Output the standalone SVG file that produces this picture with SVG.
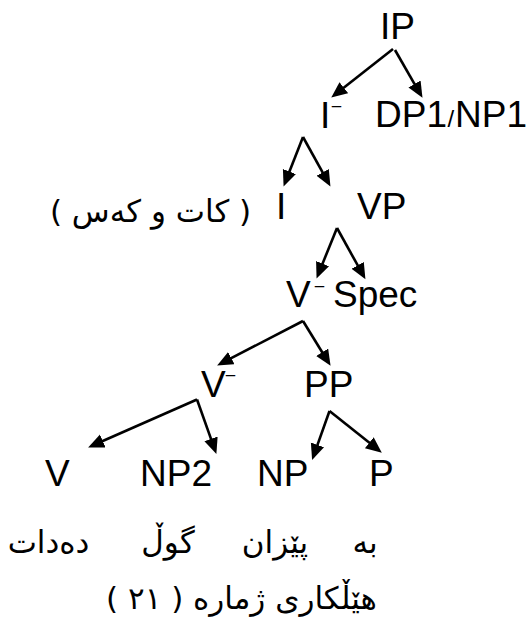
<svg xmlns="http://www.w3.org/2000/svg" width="531" height="623" viewBox="0 0 531 623">
<defs>
<marker id="ah" markerUnits="userSpaceOnUse" markerWidth="18" markerHeight="16" refX="5" refY="7" orient="auto">
<path d="M0,0 L16,7 L0,14 z" fill="#000"/>
</marker>
<style>
.lat{font-family:'Liberation Sans',Arial,sans-serif;font-size:37px;fill:#000}
.ku{font-family:'DejaVu Sans',sans-serif;font-size:31px;fill:#000;direction:rtl;unicode-bidi:embed}
.c line{stroke:#000;stroke-width:2.6;marker-end:url(#ah)}
</style>
</defs>
<rect width="531" height="623" fill="#fff"/>
<g id="connectors" class="c">
<line x1="393" y1="49" x2="339.9" y2="90.8"/>
<line x1="395" y1="50" x2="417" y2="88.3"/>
<line x1="303" y1="137" x2="287.6" y2="176.2"/>
<line x1="303" y1="137" x2="325.1" y2="176.8"/>
<line x1="337" y1="228" x2="320.7" y2="268.2"/>
<line x1="337" y1="228" x2="360.1" y2="269.7"/>
<line x1="303" y1="321" x2="226.9" y2="360.4"/>
<line x1="303" y1="321" x2="324.8" y2="356.5"/>
<line x1="197" y1="399.5" x2="98.2" y2="443"/>
<line x1="197" y1="399.5" x2="212.7" y2="443.6"/>
<line x1="329.5" y1="411" x2="315.8" y2="449.6"/>
<line x1="329.5" y1="411" x2="373.2" y2="445.8"/>
</g>
<g id="n-IP"><text class="lat" x="380" y="39">IP</text></g>
<g id="n-Ibar"><text class="lat" x="320" y="128">I<tspan font-size="17" dx="1.5" dy="-17">–</tspan></text></g>
<g id="n-DP1"><text class="lat" x="375" y="127">DP1<tspan font-size="24" x="447.5">/</tspan><tspan x="455">NP1</tspan></text></g>
<g id="n-kat"><text class="ku" x="150.5" y="222" text-anchor="middle" font-size="33">( کات و کەس )</text></g>
<g id="n-I"><text class="lat" x="276" y="219">I</text></g>
<g id="n-VP"><text class="lat" x="357" y="219">VP</text></g>
<g id="n-Vbar1"><text class="lat" x="286" y="307">V<tspan font-size="17" dx="4" dy="-16">–</tspan></text></g>
<g id="n-Spec"><text class="lat" x="333" y="307">Spec</text></g>
<g id="n-Vbar2"><text class="lat" x="201" y="397">V<tspan font-size="17" dx="0" dy="-17">–</tspan></text></g>
<g id="n-PP"><text class="lat" x="304" y="397">PP</text></g>
<g id="n-V"><text class="lat" x="45" y="486">V</text></g>
<g id="n-NP2"><text class="lat" x="140" y="486">NP2</text></g>
<g id="n-NP"><text class="lat" x="257" y="486">NP</text></g>
<g id="n-P"><text class="lat" x="369" y="486">P</text></g>
<g id="words">
<text class="ku" x="48.5" y="553" text-anchor="middle">دەدات</text>
<text class="ku" x="168" y="553" text-anchor="middle">گوڵ</text>
<text class="ku" x="275" y="553" text-anchor="middle">پێزان</text>
<text class="ku" x="365" y="553" text-anchor="middle">بە</text>
</g>
<g id="caption"><text class="ku" x="241.5" y="609" text-anchor="middle">هێڵکاری ژمارە ( ٢١ )</text></g>
</svg>
